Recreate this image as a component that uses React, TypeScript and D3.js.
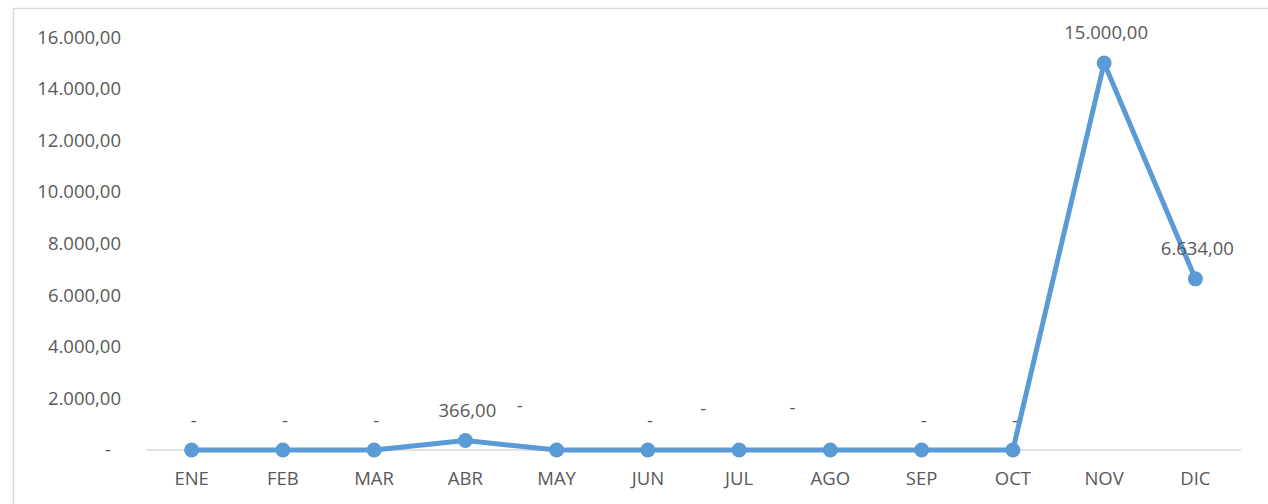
import React from "react";
import * as d3 from "d3";

const months = ["ENE", "FEB", "MAR", "ABR", "MAY", "JUN", "JUL", "AGO", "SEP", "OCT", "NOV", "DIC"];
const values = [0, 0, 0, 366, 0, 0, 0, 0, 0, 0, 15000, 6634];
const yTicks = [0, 2000, 4000, 6000, 8000, 10000, 12000, 14000, 16000];
// manual label nudges (as dragged in the original chart), in px
const labelNudgeX = [0, 0, 0, 0, -39, 0, -38, -40, 0, 0, 0, 0];
const labelNudgeY = [0, 0, 0, 0, -15, 0, -12, -13, 0, 0, 0, 0];

const W = 1268;
const H = 504;
const FONT = "'Open Sans', sans-serif";
const TEXT = "#595959";
const LINE = "#5B9BD5";

const locale = d3.formatLocale({ decimal: ",", thousands: ".", grouping: [3], currency: ["", ""] });
const fmt = locale.format(",.2f");
const label = (v: number) => (v === 0 ? "-" : fmt(v));

export default function App() {
  const x = d3.scaleBand<string>().domain(months).range([146, 1241]);
  const y = d3.scaleLinear().domain([0, 16000]).range([450, 37.2]);
  const cx = (i: number) => (x(months[i]) ?? 0) + x.bandwidth() / 2;
  const line = d3
    .line<number>()
    .x((_, i) => cx(i))
    .y((d) => y(d));

  return (
    <svg
      width={W}
      height={H}
      style={{ position: "absolute", left: 0, top: 0, background: "#fff" }}
      fontFamily={FONT}
    >
      <rect x={13.5} y={8.5} width={W + 10} height={H + 10} fill="none" stroke="#d9d9d9" strokeWidth={1.5} />
      {/* y axis labels */}
      {yTicks.map((t) => (
        <text
          key={t}
          x={t === 0 ? 111 : 121}
          y={y(t)}
          dy="0.35em"
          textAnchor="end"
          fontSize={18.5}
          fill={TEXT}
        >
          {label(t)}
        </text>
      ))}
      {/* baseline */}
      <line x1={146} x2={1241} y1={y(0)} y2={y(0)} stroke="#d9d9d9" strokeWidth={1.5} />
      {/* x labels */}
      {months.map((m, i) => (
        <text key={m} x={cx(i)} y={485} textAnchor="middle" fontSize={18.5} fill={TEXT}>
          {m}
        </text>
      ))}
      <path d={line(values) ?? ""} fill="none" stroke={LINE} strokeWidth={5} strokeLinejoin="round" />
      {values.map((v, i) => (
        <circle key={i} cx={cx(i)} cy={y(v)} r={7.5} fill={LINE} />
      ))}
      {/* data labels */}
      {values.map((v, i) => (
        <text
          key={"l" + i}
          x={cx(i) + 2 + labelNudgeX[i]}
          y={y(v) - 30 + labelNudgeY[i] + (v === 0 ? 1 : 0)}
          dy="0.35em"
          textAnchor="middle"
          fontSize={18.5}
          fill={TEXT}
        >
          {label(v)}
        </text>
      ))}
    </svg>
  );
}
